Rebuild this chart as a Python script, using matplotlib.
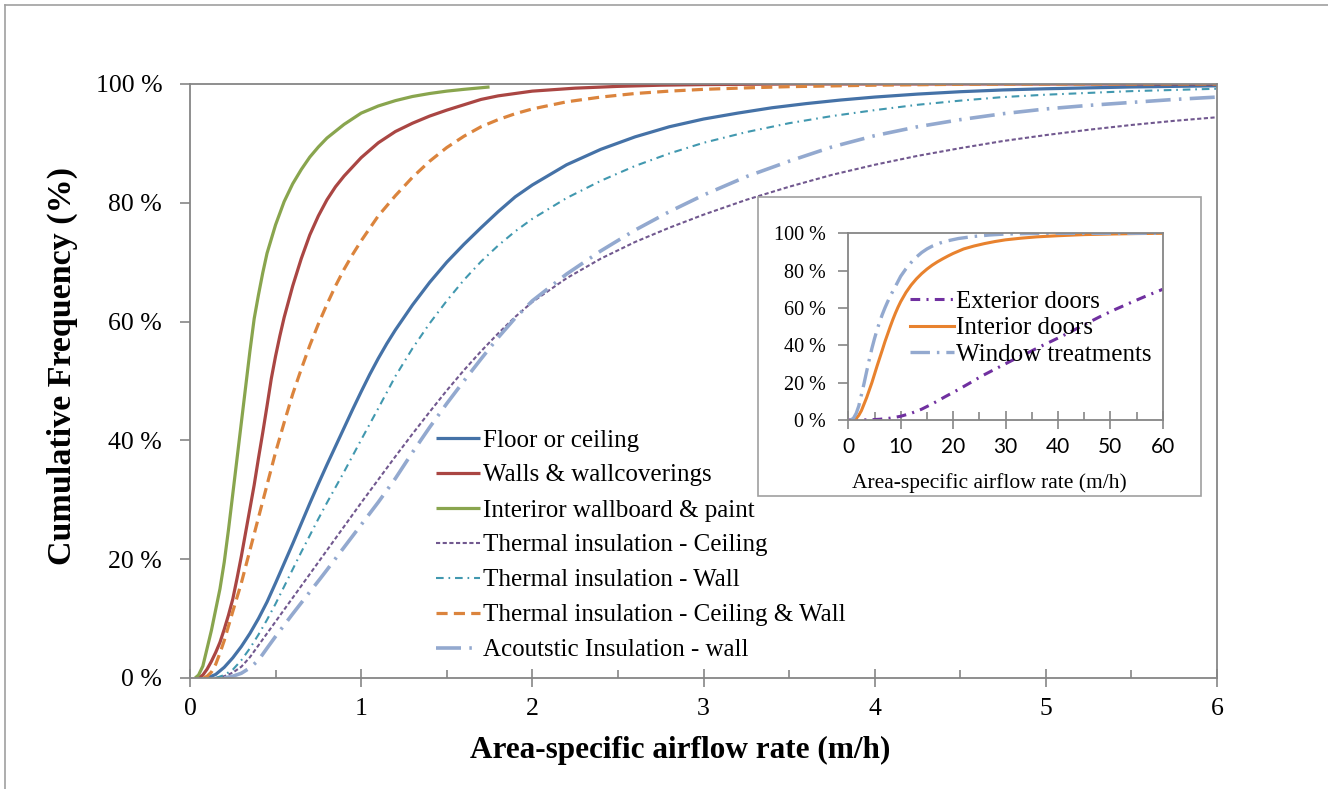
import matplotlib
matplotlib.use("Agg")
import matplotlib.pyplot as plt
from matplotlib.patches import Rectangle
from matplotlib.lines import Line2D

plt.rcParams['lines.scale_dashes'] = False
plt.rcParams['font.family'] = ['Liberation Serif', 'DejaVu Serif']

# ---------------- data ----------------
floor_x = [0.10, 0.15, 0.20, 0.25, 0.30, 0.35, 0.40, 0.45, 0.50, 0.55, 0.60, 0.65, 0.70, 0.75, 0.80, 0.85, 0.90, 0.95,
           1.00, 1.05, 1.10, 1.15, 1.20, 1.30, 1.40, 1.50, 1.60, 1.70, 1.80, 1.90, 2.00, 2.20, 2.40, 2.60, 2.80, 3.00,
           3.20, 3.40, 3.60, 3.80, 4.00, 4.25, 4.50, 4.75, 5.00, 5.50, 6.00]
floor_y = [0.0, 0.6, 1.8, 3.4, 5.3, 7.5, 10.0, 12.8, 16.0, 19.3, 22.6, 26.0, 29.4, 32.7, 35.9, 39.0, 42.1, 45.2,
           48.2, 51.1, 53.8, 56.3, 58.6, 62.8, 66.6, 70.0, 73.0, 75.8, 78.5, 81.0, 83.0, 86.4, 89.0, 91.1, 92.8, 94.1,
           95.1, 96.0, 96.7, 97.3, 97.8, 98.3, 98.7, 99.0, 99.2, 99.5, 99.7]

walls_x = [0.05, 0.075, 0.10, 0.125, 0.15, 0.175, 0.20, 0.225, 0.25, 0.275, 0.30, 0.325, 0.35, 0.375, 0.40, 0.425,
           0.45, 0.475, 0.50, 0.525, 0.55, 0.60, 0.65, 0.70, 0.75, 0.80, 0.85, 0.90, 1.00, 1.10, 1.20, 1.30, 1.40,
           1.50, 1.60, 1.70, 1.80, 2.00, 2.25, 2.50, 2.75, 3.00, 3.50, 6.00]
walls_y = [0.0, 0.5, 1.5, 2.8, 4.3, 6.0, 8.2, 10.6, 13.3, 16.8, 20.5, 24.5, 28.5, 32.5, 37.0, 41.3,
           45.8, 50.4, 54.2, 57.6, 60.7, 66.0, 70.6, 74.6, 77.8, 80.5, 82.7, 84.5, 87.6, 90.1, 92.0, 93.4, 94.6,
           95.6, 96.5, 97.4, 98.0, 98.8, 99.3, 99.6, 99.8, 99.9, 100.0, 100.0]

board_x = [0.03, 0.05, 0.075, 0.10, 0.125, 0.15, 0.175, 0.20, 0.225, 0.25, 0.275, 0.30, 0.325, 0.35, 0.375, 0.40,
           0.425, 0.45, 0.50, 0.55, 0.60, 0.65, 0.70, 0.75, 0.80, 0.90, 1.00, 1.10, 1.20, 1.30, 1.40, 1.50, 1.60, 1.75]
board_y = [0.0, 0.5, 2.0, 5.0, 8.0, 11.5, 15.0, 19.5, 25.0, 31.0, 37.0, 43.0, 49.0, 55.0, 60.5, 64.5,
           68.2, 71.5, 76.3, 80.2, 83.2, 85.6, 87.7, 89.4, 90.9, 93.2, 95.1, 96.3, 97.2, 97.9, 98.4, 98.8, 99.1, 99.5]

tic_x = [0.15, 0.20, 0.25, 0.30, 0.35, 0.40, 0.50, 0.60, 0.70, 0.80, 0.90, 1.00, 1.10, 1.20, 1.30, 1.40, 1.50,
         1.60, 1.70, 1.80, 1.90, 2.00, 2.20, 2.40, 2.60, 2.80, 3.00, 3.25, 3.50, 3.75, 4.00, 4.25, 4.50, 4.75,
         5.00, 5.25, 5.50, 5.75, 6.00]
tic_y = [0.0, 0.3, 0.9, 1.9, 3.5, 5.5, 9.5, 13.5, 17.5, 21.5, 25.5, 29.5, 33.4, 37.3, 41.1, 44.8, 48.4,
         51.8, 55.0, 58.0, 60.8, 63.3, 67.3, 70.6, 73.4, 75.8, 78.0, 80.5, 82.7, 84.7, 86.4, 87.9, 89.2, 90.4,
         91.4, 92.3, 93.1, 93.8, 94.4]

tiw_x = [0.15, 0.20, 0.25, 0.30, 0.35, 0.40, 0.45, 0.50, 0.55, 0.60, 0.65, 0.70, 0.75, 0.80, 0.85, 0.90, 0.95,
         1.00, 1.10, 1.20, 1.30, 1.40, 1.50, 1.60, 1.70, 1.80, 1.90, 2.00, 2.20, 2.40, 2.60, 2.80, 3.00, 3.25,
         3.50, 3.75, 4.00, 4.25, 4.50, 4.75, 5.00, 5.50, 6.00]
tiw_y = [0.0, 0.5, 1.4, 3.0, 5.0, 7.3, 9.8, 12.5, 15.4, 18.3, 21.2, 24.0, 26.8, 29.5, 32.1, 34.7, 37.4,
         40.1, 45.4, 50.8, 55.5, 59.7, 63.5, 67.0, 70.1, 72.8, 75.2, 77.3, 80.8, 83.7, 86.2, 88.3, 90.1, 91.9,
         93.4, 94.6, 95.6, 96.5, 97.2, 97.8, 98.2, 98.8, 99.2]

ticw_x = [0.08, 0.10, 0.125, 0.15, 0.175, 0.20, 0.25, 0.30, 0.35, 0.40, 0.45, 0.50, 0.55, 0.60, 0.65, 0.70, 0.75,
          0.80, 0.85, 0.90, 0.95, 1.00, 1.10, 1.20, 1.30, 1.40, 1.50, 1.60, 1.70, 1.80, 1.90, 2.00, 2.20, 2.40,
          2.60, 2.80, 3.00, 3.25, 3.50, 4.00, 4.50, 5.00, 6.00]
ticw_y = [0.0, 0.3, 1.0, 2.3, 4.2, 6.3, 11.2, 16.0, 21.5, 27.0, 32.5, 38.0, 43.0, 47.8, 52.0, 56.0, 59.6,
          62.9, 66.0, 68.8, 71.3, 73.6, 77.8, 81.2, 84.3, 87.0, 89.3, 91.2, 92.8, 94.0, 95.0, 95.8, 97.0, 97.8,
          98.4, 98.8, 99.1, 99.35, 99.55, 99.8, 99.95, 100.0, 100.0]

acou_x = [0.20, 0.25, 0.30, 0.35, 0.40, 0.457, 0.50, 0.60, 0.70, 0.76, 0.80, 0.90, 1.00, 1.10, 1.20, 1.30, 1.40,
          1.50, 1.60, 1.70, 1.80, 1.90, 2.00, 2.20, 2.40, 2.60, 2.80, 3.00, 3.25, 3.50, 3.75, 4.00, 4.25, 4.50,
          4.75, 5.00, 5.25, 5.50, 5.75, 6.00]
acou_y = [0.0, 0.3, 0.8, 1.7, 3.0, 5.3, 7.0, 10.8, 14.5, 16.7, 18.2, 22.0, 25.8, 29.6, 33.6, 38.0, 42.2,
          46.2, 50.0, 53.7, 57.3, 60.6, 63.5, 68.0, 71.9, 75.4, 78.5, 81.3, 84.4, 87.0, 89.4, 91.3, 92.8, 94.0,
          95.0, 95.8, 96.4, 96.9, 97.4, 97.8]

ext_x = [0, 4, 6, 8, 10, 12, 14, 16, 18.5, 21, 23, 25.5, 27.7, 30, 32, 34.5, 36.6, 39, 42, 45, 48, 51, 54, 57, 60]
ext_y = [0.0, 0.1, 0.4, 1.0, 2.0, 3.6, 5.8, 8.6, 12.5, 16.3, 19.5, 23.6, 26.8, 30.1, 33.0, 36.3, 39.3, 42.5,
         46.6, 51.0, 55.3, 59.3, 63.0, 66.6, 70.0]

intd_x = [0.9, 1.5, 2, 2.5, 3, 3.5, 4, 4.5, 5, 5.5, 6, 6.5, 7, 7.5, 8, 8.5, 9, 9.5, 10, 11, 12, 13, 14, 15, 16,
          17, 18, 19, 20, 22, 24, 26, 28, 30, 33, 36, 40, 45, 50, 55, 60]
intd_y = [0.0, 0.8, 2.5, 5.0, 8.5, 12.0, 16.0, 20.0, 24.5, 29.0, 33.3, 37.6, 42.0, 46.0, 50.0, 53.8, 57.3, 60.5,
          63.4, 68.3, 72.3, 75.6, 78.4, 80.8, 82.9, 84.7, 86.3, 87.8, 89.2, 91.6, 93.2, 94.5, 95.6, 96.5, 97.4,
          98.1, 98.7, 99.3, 99.6, 99.85, 100.0]

win_x = [0.5, 1, 1.5, 2, 2.5, 3, 3.5, 4, 4.5, 5, 5.5, 6, 6.5, 7, 7.5, 8, 8.5, 9, 10, 11, 12, 13, 14, 15, 16,
         17.5, 19, 21, 23.9, 27, 30, 35, 40, 60]
win_y = [0.0, 1.0, 3.5, 7.5, 13.5, 19.5, 26.0, 32.3, 38.3, 43.6, 48.4, 52.7, 56.6, 60.1, 63.3, 66.3, 69.0, 71.6,
         77.0, 81.0, 84.4, 87.3, 89.7, 91.6, 93.1, 94.8, 96.0, 97.2, 98.3, 99.1, 99.6, 99.9, 100.0, 100.0]

main_labels = ["Floor or ceiling", "Walls & wallcoverings", "Interiror wallboard & paint",
               "Thermal insulation - Ceiling", "Thermal insulation - Wall",
               "Thermal insulation - Ceiling & Wall", "Acoutstic Insulation - wall"]
inset_labels = ["Exterior doors", "Interior doors", "Window treatments"]

main_xticks = [0, 1, 2, 3, 4, 5, 6]
yticks = [0, 20, 40, 60, 80, 100]
ytick_labels = ["0 %", "20 %", "40 %", "60 %", "80 %", "100 %"]
inset_xticks = [0, 10, 20, 30, 40, 50, 60]

xlabel = "Area-specific airflow rate (m/h)"
ylabel = "Cumulative Frequency (%)"

# ---------------- figure ----------------
W, H = 1328, 789
fig = plt.figure(figsize=(W / 100, H / 100), dpi=100)

def fx(px):
    return px / W

def fy(py):
    return 1 - py / H

gray = "#868686"

# outer frame (left and top edges visible)
fig.add_artist(Line2D([fx(5), fx(5)], [fy(5), 0], color="#a0a0a0", lw=1.2))
fig.add_artist(Line2D([fx(5), 1], [fy(5), fy(5)], color="#a0a0a0", lw=1.2))

ax = fig.add_axes([fx(190), fy(678), fx(1217) - fx(190), fy(84) - fy(678)])
ax.set_xlim(0, 6)
ax.set_ylim(0, 100)

series = [
    (floor_x, floor_y, dict(color="#4572A7", lw=2.3, ls="-")),
    (walls_x, walls_y, dict(color="#AA4643", lw=2.3, ls="-")),
    (board_x, board_y, dict(color="#89A54E", lw=2.3, ls="-")),
    (tic_x, tic_y, dict(color="#71588F", lw=1.5, ls=(0, (3.0, 1.8)))),
    (tiw_x, tiw_y, dict(color="#4198AF", lw=1.5, ls=(0, (5.5, 3.5, 1.2, 3.5)))),
    (ticw_x, ticw_y, dict(color="#DB843D", lw=2.3, ls=(0, (8, 4.5)))),
    (acou_x, acou_y, dict(color="#93A9CF", lw=2.6, ls=(0, (18, 6, 1.8, 6)))),
]
handles = []
for (xs, ys, st), lab in zip(series, main_labels):
    h, = ax.plot(xs, ys, label=lab, solid_capstyle="butt", dash_capstyle="butt",
                 solid_joinstyle="round", **st)
    handles.append(h)

for s in ax.spines.values():
    s.set_color(gray)
    s.set_linewidth(1.3)

ax.set_xticks(main_xticks)
ax.set_xticklabels([str(v) for v in main_xticks])
ax.set_xticks([0.5, 1.5, 2.5, 3.5, 4.5, 5.5], minor=True)
ax.set_yticks(yticks)
ax.set_yticklabels(ytick_labels)
ax.tick_params(axis="x", which="major", direction="inout", length=13, width=1.2, color=gray,
               labelsize=18.5, pad=8)
ax.tick_params(axis="x", which="minor", direction="in", length=6, width=1.2, color=gray)
ax.tick_params(axis="y", which="major", direction="out", length=7, width=1.2, color=gray,
               labelsize=18.5, pad=13)

leg = ax.legend(handles=handles, loc="upper left", bbox_to_anchor=(fx(436), fy(429)),
                bbox_transform=fig.transFigure, frameon=False, fontsize=18,
                handlelength=1.75, handletextpad=0.15, labelspacing=0.5, borderpad=0,
                borderaxespad=0)

fig.text(fx(680), fy(750), xlabel, ha="center", va="center", fontsize=22.5, fontweight="bold")
fig.text(fx(62), fy(366), ylabel, ha="center", va="center", rotation=90, fontsize=24.5,
         fontweight="bold")

# ---------------- inset ----------------
fig.add_artist(Rectangle((fx(758), fy(496)), fx(1201) - fx(758), fy(197) - fy(496),
                         transform=fig.transFigure, facecolor="white", edgecolor="#a0a0a0",
                         lw=1.2, zorder=3))
axi = fig.add_axes([fx(848.3), fy(420), fx(1162.7) - fx(848.3), fy(233.3) - fy(420)], zorder=4)
axi.set_xlim(0, 60)
axi.set_ylim(0, 100)
h1, = axi.plot(ext_x, ext_y, color="#7030A0", lw=2.2, ls=(0, (7, 4.5, 1.5, 4.5)),
               dash_capstyle="butt")
h2, = axi.plot(intd_x, intd_y, color="#E8822E", lw=2.2, ls="-", solid_joinstyle="round")
h3, = axi.plot(win_x, win_y, color="#93A9CF", lw=2.4, ls=(0, (14, 5, 1.8, 5)),
               dash_capstyle="butt")
for s in axi.spines.values():
    s.set_color(gray)
    s.set_linewidth(1.3)
axi.set_xticks(inset_xticks)
axi.set_xticklabels([str(v) for v in inset_xticks], fontfamily="Lato", fontsize=15)
axi.set_xticks([5, 15, 25, 35, 45, 55], minor=True)
axi.set_yticks(yticks)
axi.set_yticklabels(ytick_labels)
axi.tick_params(axis="x", which="major", direction="inout", length=13, width=1.2, color=gray,
                pad=6)
axi.tick_params(axis="x", which="minor", direction="in", length=6, width=1.2, color=gray)
axi.tick_params(axis="y", which="major", direction="out", length=7, width=1.2, color=gray,
                labelsize=14.5, pad=9)
axi.legend([h1, h2, h3], inset_labels, loc="upper left", bbox_to_anchor=(fx(910), fy(290)),
           bbox_transform=fig.transFigure, frameon=False, fontsize=18, handlelength=1.75,
           handletextpad=0.1, labelspacing=0.17, borderpad=0, borderaxespad=0)
fig.text(fx(989), fy(483), xlabel, ha="center", va="center", fontsize=15.5, zorder=5)

fig.savefig("out.png", dpi=100)
